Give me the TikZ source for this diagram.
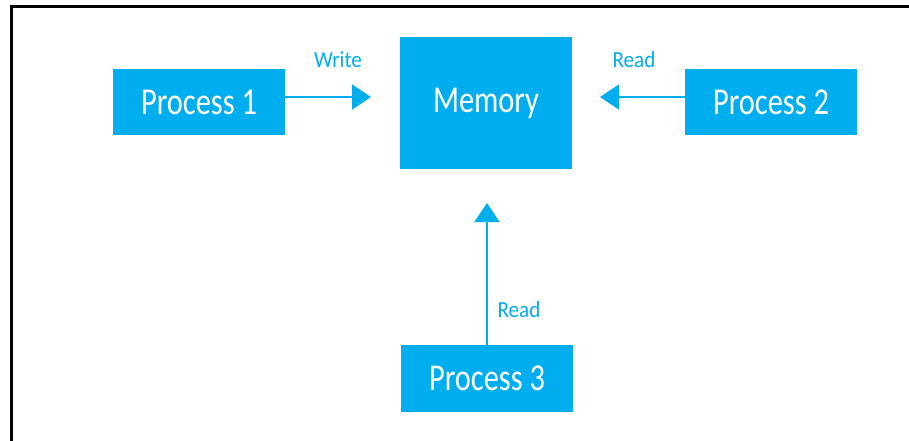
\documentclass[tikz,border=0pt]{standalone}
\usepackage{fontspec}
\setmainfont{Carlito}
\usetikzlibrary{arrows.meta}
\definecolor{procblue}{HTML}{00AEEF}
% narrow set of the box and label texts
\newcommand{\boxtext}[1]{\scalebox{0.8}[1]{#1}}
\newcommand{\lbltext}[1]{\scalebox{0.92}[1]{#1}}
\tikzset{
  x=1pt, y=-1pt,
  box/.style={fill=procblue, draw=none, inner sep=0pt, text=white,
    font=\fontsize{38}{38}\selectfont},
  link/.style={draw=procblue, line width=1.8pt,
    -{Triangle[length=19pt, width=25pt]}},
  lbl/.style={text=procblue, font=\fontsize{23}{23}\selectfont, inner sep=0pt}
}
\begin{document}
\begin{tikzpicture}
\useasboundingbox (0,0) rectangle (909,440);
\fill[white] (0,0) rectangle (909,440);
% frame edges
\draw[line width=3pt, black] (11.5,445) -- (11.5,6) -- (912,6);
% boxes
\node[box, minimum width=172pt, minimum height=66pt] (p1) at (199,102) {\boxtext{Process 1}};
\node[box, minimum width=172pt, minimum height=132pt] (mem) at (486,103) {\boxtext{Memory}};
\node[box, minimum width=172pt, minimum height=66pt] (p2) at (771,102) {\boxtext{Process 2}};
\node[box, minimum width=172pt, minimum height=67pt] (p3) at (487,378.5) {\boxtext{Process 3}};
% end points of the arrows
\coordinate (t1) at (371,97);
\coordinate (t2) at (600,97);
\coordinate (t3) at (487,203);
% arrows
\draw[link] (p1.east |- t1) -- (t1);
\draw[link] (p2.west |- t2) -- (t2);
\draw[link] (p3.north -| t3) -- (t3);
% labels
\node[lbl] (w) at (338,60) {\lbltext{Write}};
\node[lbl] (r1) at (634,60) {\lbltext{Read}};
\node[lbl] (r2) at (519,310) {\lbltext{Read}};
\end{tikzpicture}
\end{document}
